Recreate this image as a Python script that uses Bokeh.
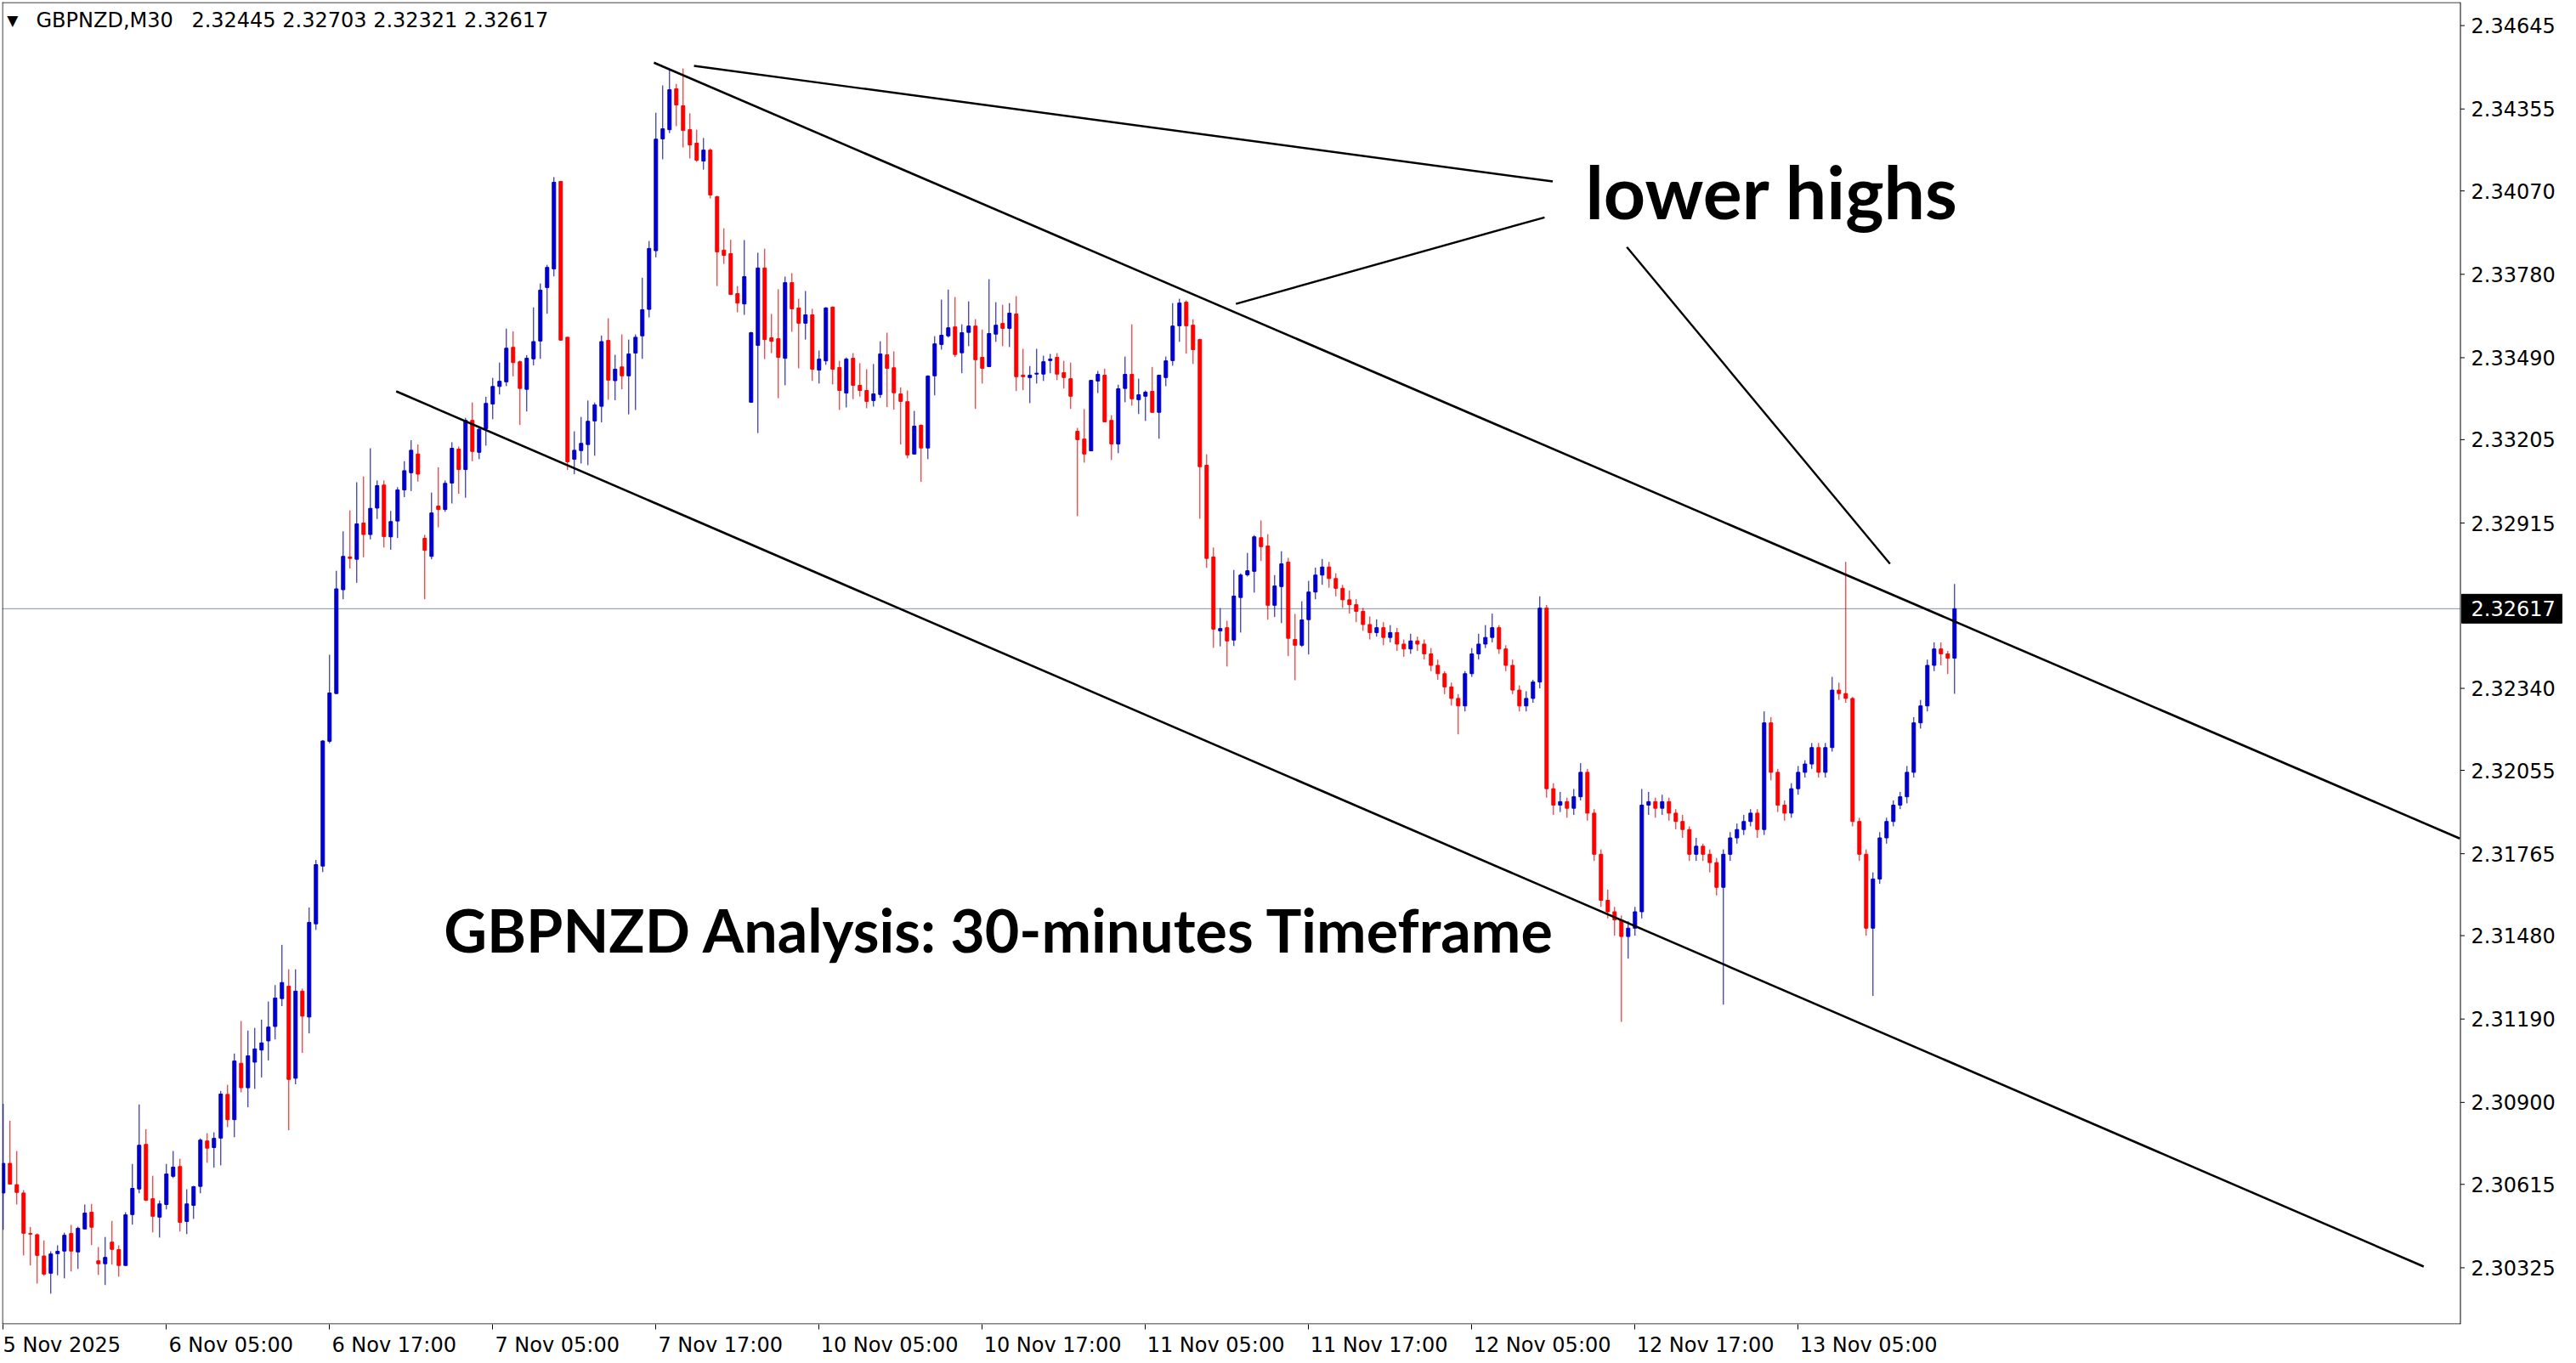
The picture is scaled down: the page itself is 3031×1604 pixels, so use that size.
import numpy as np
from bokeh.plotting import figure
from bokeh.models import FixedTicker, Range1d, Label, ColumnDataSource
from bokeh.core.properties import value
from bokeh.embed import file_html
from bokeh.resources import INLINE

# ---------------- data (M30 candles, index 0 = 5 Nov 2025 17:00) ----------------
opens = [
    2.30585, 2.30688, 2.30614, 2.30585, 2.30444, 2.30440, 2.30366, 2.30306, 2.30374, 2.30383,
    2.30444, 2.30380, 2.30460, 2.30518, 2.30349, 2.30339, 2.30414, 2.30388, 2.30333, 2.30510,
    2.30599, 2.30754, 2.30565, 2.30501, 2.30545, 2.30643, 2.30677, 2.30486, 2.30542, 2.30608,
    2.30766, 2.30743, 2.30776, 2.30928, 2.30840, 2.31036, 2.30951, 2.31040, 2.31082, 2.31114,
    2.31164, 2.31261, 2.31304, 2.30984, 2.31287, 2.31197, 2.31521, 2.31722, 2.32156, 2.32322,
    2.32683, 2.32797, 2.32789, 2.32915, 2.32875, 2.32967, 2.33047, 2.32867, 2.32922, 2.33030,
    2.33090, 2.33155, 2.32862, 2.32799, 2.32974, 2.32962, 2.33054, 2.33172, 2.33101, 2.33272,
    2.33161, 2.33243, 2.33329, 2.33390, 2.33406, 2.33526, 2.33476, 2.33380, 2.33486, 2.33548,
    2.33734, 2.33799, 2.34103, 2.33561, 2.33137, 2.33167, 2.33188, 2.33270, 2.33321, 2.33550,
    2.33410, 2.33458, 2.33427, 2.33506, 2.33566, 2.33658, 2.33862, 2.34251, 2.34283, 2.34425,
    2.34366, 2.34283, 2.34236, 2.34174, 2.34212, 2.34050, 2.33864, 2.33852, 2.33713, 2.33677,
    2.33335, 2.33533, 2.33802, 2.33559, 2.33556, 2.33488, 2.33751, 2.33663, 2.33610, 2.33639,
    2.33447, 2.33479, 2.33666, 2.33456, 2.33367, 2.33488, 2.33394, 2.33376, 2.33341, 2.33362,
    2.33500, 2.33455, 2.33364, 2.33337, 2.33155, 2.33255, 2.33176, 2.33427, 2.33536, 2.33566,
    2.33597, 2.33507, 2.33578, 2.33600, 2.33491, 2.33459, 2.33572, 2.33609, 2.33592, 2.33642,
    2.33429, 2.33421, 2.33433, 2.33433, 2.33480, 2.33491, 2.33438, 2.33417, 2.33234, 2.33207,
    2.33166, 2.33409, 2.33429, 2.33272, 2.33190, 2.33383, 2.33432, 2.33344, 2.33356, 2.33373,
    2.33300, 2.33421, 2.33480, 2.33601, 2.33683, 2.33603, 2.33553, 2.33116, 2.32797, 2.32540,
    2.32551, 2.32508, 2.32656, 2.32735, 2.32747, 2.32864, 2.32835, 2.32629, 2.32694, 2.32779,
    2.32510, 2.32490, 2.32579, 2.32675, 2.32734, 2.32762, 2.32722, 2.32688, 2.32648, 2.32631,
    2.32608, 2.32562, 2.32534, 2.32551, 2.32517, 2.32534, 2.32494, 2.32477, 2.32505, 2.32494,
    2.32460, 2.32420, 2.32391, 2.32345, 2.32305, 2.32279, 2.32391, 2.32460, 2.32494, 2.32517,
    2.32551, 2.32477, 2.32420, 2.32334, 2.32279, 2.32305, 2.32362, 2.32619, 2.31991, 2.31934,
    2.31946, 2.31923, 2.31963, 2.32048, 2.31906, 2.31763, 2.31603, 2.31563, 2.31535, 2.31477,
    2.31506, 2.31563, 2.31934, 2.31946, 2.31923, 2.31946, 2.31906, 2.31877, 2.31849, 2.31763,
    2.31791, 2.31763, 2.31734, 2.31648, 2.31763, 2.31820, 2.31849, 2.31877, 2.31906, 2.31849,
    2.32220, 2.32048, 2.31934, 2.31906, 2.31991, 2.32048, 2.32077, 2.32134, 2.32048, 2.32134,
    2.32334, 2.32322, 2.32305, 2.31877, 2.31763, 2.31506, 2.31677, 2.31820, 2.31877, 2.31934,
    2.31963, 2.32048, 2.32220, 2.32279, 2.32420, 2.32477, 2.32460, 2.32445,
]
highs = [
    2.30895, 2.30836, 2.30731, 2.30595, 2.30467, 2.30444, 2.30420, 2.30382, 2.30403, 2.30447,
    2.30474, 2.30468, 2.30545, 2.30547, 2.30397, 2.30432, 2.30488, 2.30403, 2.30518, 2.30686,
    2.30893, 2.30807, 2.30645, 2.30559, 2.30686, 2.30731, 2.30704, 2.30598, 2.30610, 2.30775,
    2.30793, 2.30796, 2.30940, 2.30961, 2.31070, 2.31183, 2.31150, 2.31159, 2.31188, 2.31251,
    2.31308, 2.31448, 2.31363, 2.31363, 2.31296, 2.31578, 2.31743, 2.32160, 2.32457, 2.32749,
    2.32886, 2.32959, 2.33057, 2.33077, 2.33175, 2.33063, 2.33063, 2.32957, 2.33040, 2.33130,
    2.33203, 2.33188, 2.32874, 2.33021, 2.33109, 2.33063, 2.33196, 2.33181, 2.33281, 2.33334,
    2.33252, 2.33354, 2.33420, 2.33473, 2.33591, 2.33582, 2.33480, 2.33499, 2.33665, 2.33748,
    2.33813, 2.34118, 2.34105, 2.33562, 2.33234, 2.33284, 2.33341, 2.33334, 2.33567, 2.33627,
    2.33500, 2.33571, 2.33553, 2.33571, 2.33768, 2.33896, 2.34342, 2.34437, 2.34491, 2.34442,
    2.34496, 2.34340, 2.34283, 2.34254, 2.34218, 2.34053, 2.33940, 2.33900, 2.33739, 2.33899,
    2.33580, 2.33855, 2.33869, 2.33642, 2.33728, 2.33772, 2.33784, 2.33695, 2.33722, 2.33660,
    2.33515, 2.33666, 2.33668, 2.33479, 2.33491, 2.33506, 2.33471, 2.33450, 2.33468, 2.33547,
    2.33577, 2.33512, 2.33387, 2.33376, 2.33305, 2.33258, 2.33429, 2.33565, 2.33692, 2.33727,
    2.33701, 2.33606, 2.33686, 2.33624, 2.33588, 2.33763, 2.33683, 2.33674, 2.33680, 2.33704,
    2.33521, 2.33461, 2.33521, 2.33497, 2.33503, 2.33506, 2.33479, 2.33473, 2.33246, 2.33311,
    2.33413, 2.33444, 2.33452, 2.33290, 2.33396, 2.33494, 2.33606, 2.33417, 2.33376, 2.33458,
    2.33431, 2.33494, 2.33680, 2.33695, 2.33689, 2.33624, 2.33556, 2.33154, 2.32830, 2.32619,
    2.32575, 2.32752, 2.32740, 2.32811, 2.32873, 2.32924, 2.32876, 2.32734, 2.32817, 2.32794,
    2.32599, 2.32643, 2.32714, 2.32760, 2.32790, 2.32780, 2.32740, 2.32700, 2.32680, 2.32650,
    2.32620, 2.32590, 2.32580, 2.32570, 2.32560, 2.32550, 2.32510, 2.32530, 2.32520, 2.32510,
    2.32480, 2.32440, 2.32400, 2.32360, 2.32320, 2.32400, 2.32480, 2.32530, 2.32560, 2.32600,
    2.32560, 2.32490, 2.32440, 2.32350, 2.32330, 2.32370, 2.32660, 2.32630, 2.32010, 2.31980,
    2.31960, 2.31990, 2.32080, 2.32060, 2.31920, 2.31780, 2.31640, 2.31580, 2.31550, 2.31530,
    2.31580, 2.31990, 2.31980, 2.31960, 2.31970, 2.31960, 2.31920, 2.31900, 2.31860, 2.31820,
    2.31800, 2.31780, 2.31750, 2.31780, 2.31840, 2.31870, 2.31900, 2.31920, 2.31920, 2.32260,
    2.32240, 2.32060, 2.31950, 2.32010, 2.32070, 2.32090, 2.32150, 2.32150, 2.32150, 2.32380,
    2.32360, 2.32780, 2.32310, 2.31890, 2.31780, 2.31700, 2.31840, 2.31890, 2.31950, 2.31980,
    2.32070, 2.32240, 2.32300, 2.32440, 2.32500, 2.32500, 2.32470, 2.32703,
]
lows = [
    2.30457, 2.30614, 2.30545, 2.30368, 2.30333, 2.30270, 2.30297, 2.30235, 2.30299, 2.30288,
    2.30312, 2.30321, 2.30458, 2.30404, 2.30300, 2.30265, 2.30336, 2.30294, 2.30331, 2.30475,
    2.30584, 2.30557, 2.30448, 2.30430, 2.30528, 2.30637, 2.30451, 2.30442, 2.30495, 2.30584,
    2.30690, 2.30673, 2.30681, 2.30814, 2.30779, 2.30935, 2.30883, 2.30947, 2.30987, 2.31046,
    2.31119, 2.31235, 2.30803, 2.30963, 2.31072, 2.31140, 2.31500, 2.31701, 2.32149, 2.32320,
    2.32650, 2.32757, 2.32707, 2.32796, 2.32858, 2.32929, 2.32830, 2.32822, 2.32863, 2.33005,
    2.33026, 2.33059, 2.32650, 2.32789, 2.32900, 2.32954, 2.32983, 2.33017, 2.33003, 2.33130,
    2.33137, 2.33184, 2.33276, 2.33362, 2.33391, 2.33425, 2.33256, 2.33303, 2.33463, 2.33486,
    2.33643, 2.33773, 2.33549, 2.33100, 2.33085, 2.33122, 2.33116, 2.33149, 2.33265, 2.33344,
    2.33342, 2.33380, 2.33293, 2.33308, 2.33486, 2.33630, 2.33839, 2.34180, 2.34271, 2.34295,
    2.34221, 2.34183, 2.34171, 2.34144, 2.34044, 2.33739, 2.33816, 2.33708, 2.33648, 2.33639,
    2.33333, 2.33228, 2.33485, 2.33506, 2.33349, 2.33394, 2.33580, 2.33453, 2.33553, 2.33409,
    2.33400, 2.33465, 2.33397, 2.33308, 2.33317, 2.33346, 2.33355, 2.33314, 2.33320, 2.33350,
    2.33318, 2.33309, 2.33188, 2.33140, 2.33153, 2.33058, 2.33137, 2.33359, 2.33518, 2.33560,
    2.33492, 2.33436, 2.33530, 2.33312, 2.33400, 2.33457, 2.33545, 2.33530, 2.33527, 2.33374,
    2.33377, 2.33332, 2.33400, 2.33409, 2.33436, 2.33412, 2.33383, 2.33312, 2.32939, 2.33125,
    2.33165, 2.33367, 2.33265, 2.33134, 2.33158, 2.33335, 2.33323, 2.33294, 2.33270, 2.33298,
    2.33208, 2.33391, 2.33462, 2.33545, 2.33504, 2.33468, 2.32930, 2.32759, 2.32481, 2.32486,
    2.32416, 2.32487, 2.32534, 2.32729, 2.32673, 2.32783, 2.32579, 2.32588, 2.32567, 2.32452,
    2.32368, 2.32484, 2.32458, 2.32650, 2.32700, 2.32690, 2.32660, 2.32620, 2.32600, 2.32570,
    2.32540, 2.32510, 2.32520, 2.32490, 2.32500, 2.32470, 2.32450, 2.32460, 2.32470, 2.32440,
    2.32400, 2.32370, 2.32320, 2.32280, 2.32180, 2.32260, 2.32380, 2.32440, 2.32480, 2.32500,
    2.32460, 2.32400, 2.32320, 2.32260, 2.32260, 2.32290, 2.32340, 2.31960, 2.31900, 2.31910,
    2.31890, 2.31900, 2.31950, 2.31880, 2.31740, 2.31580, 2.31540, 2.31480, 2.31180, 2.31400,
    2.31480, 2.31540, 2.31900, 2.31890, 2.31900, 2.31880, 2.31850, 2.31820, 2.31740, 2.31740,
    2.31740, 2.31700, 2.31620, 2.31240, 2.31740, 2.31800, 2.31830, 2.31860, 2.31820, 2.31830,
    2.32020, 2.31910, 2.31880, 2.31890, 2.31970, 2.32030, 2.32060, 2.32030, 2.32030, 2.32120,
    2.32300, 2.32290, 2.31860, 2.31740, 2.31480, 2.31270, 2.31660, 2.31800, 2.31860, 2.31920,
    2.31940, 2.32030, 2.32200, 2.32260, 2.32400, 2.32420, 2.32390, 2.32321,
]
closes = [
    2.30688, 2.30616, 2.30587, 2.30445, 2.30442, 2.30368, 2.30303, 2.30373, 2.30382, 2.30438,
    2.30383, 2.30462, 2.30515, 2.30466, 2.30339, 2.30361, 2.30389, 2.30333, 2.30509, 2.30601,
    2.30751, 2.30560, 2.30504, 2.30547, 2.30651, 2.30675, 2.30483, 2.30547, 2.30607, 2.30769,
    2.30741, 2.30775, 2.30929, 2.30840, 2.31044, 2.30951, 2.31062, 2.31086, 2.31107, 2.31162,
    2.31263, 2.31317, 2.30980, 2.31287, 2.31200, 2.31526, 2.31727, 2.32157, 2.32324, 2.32686,
    2.32799, 2.32792, 2.32912, 2.32875, 2.32966, 2.33045, 2.32868, 2.32920, 2.33030, 2.33097,
    2.33168, 2.33085, 2.32820, 2.32950, 2.32962, 2.33053, 2.33175, 2.33101, 2.33272, 2.33164,
    2.33241, 2.33331, 2.33390, 2.33408, 2.33523, 2.33473, 2.33383, 2.33488, 2.33546, 2.33725,
    2.33804, 2.34100, 2.33551, 2.33128, 2.33168, 2.33192, 2.33269, 2.33326, 2.33546, 2.33412,
    2.33450, 2.33427, 2.33503, 2.33561, 2.33657, 2.33870, 2.34250, 2.34286, 2.34422, 2.34369,
    2.34280, 2.34230, 2.34177, 2.34212, 2.34056, 2.33858, 2.33846, 2.33710, 2.33680, 2.33772,
    2.33577, 2.33802, 2.33553, 2.33547, 2.33491, 2.33751, 2.33660, 2.33610, 2.33639, 2.33450,
    2.33485, 2.33663, 2.33450, 2.33376, 2.33485, 2.33394, 2.33376, 2.33338, 2.33364, 2.33503,
    2.33453, 2.33368, 2.33338, 2.33152, 2.33252, 2.33176, 2.33426, 2.33538, 2.33568, 2.33594,
    2.33501, 2.33577, 2.33600, 2.33483, 2.33453, 2.33574, 2.33603, 2.33592, 2.33645, 2.33424,
    2.33424, 2.33429, 2.33436, 2.33476, 2.33485, 2.33433, 2.33421, 2.33356, 2.33205, 2.33155,
    2.33411, 2.33432, 2.33267, 2.33190, 2.33382, 2.33432, 2.33347, 2.33361, 2.33370, 2.33300,
    2.33429, 2.33479, 2.33600, 2.33680, 2.33601, 2.33518, 2.33111, 2.32792, 2.32546, 2.32548,
    2.32505, 2.32661, 2.32734, 2.32749, 2.32867, 2.32833, 2.32629, 2.32696, 2.32773, 2.32514,
    2.32490, 2.32578, 2.32675, 2.32734, 2.32762, 2.32722, 2.32688, 2.32648, 2.32631, 2.32608,
    2.32562, 2.32534, 2.32551, 2.32517, 2.32534, 2.32494, 2.32477, 2.32505, 2.32494, 2.32460,
    2.32420, 2.32391, 2.32345, 2.32305, 2.32279, 2.32391, 2.32460, 2.32494, 2.32517, 2.32551,
    2.32477, 2.32420, 2.32334, 2.32279, 2.32305, 2.32362, 2.32619, 2.31991, 2.31934, 2.31946,
    2.31923, 2.31963, 2.32048, 2.31906, 2.31763, 2.31603, 2.31563, 2.31535, 2.31477, 2.31506,
    2.31563, 2.31934, 2.31946, 2.31923, 2.31946, 2.31906, 2.31877, 2.31849, 2.31763, 2.31791,
    2.31763, 2.31734, 2.31648, 2.31763, 2.31820, 2.31849, 2.31877, 2.31906, 2.31849, 2.32220,
    2.32048, 2.31934, 2.31906, 2.31991, 2.32048, 2.32077, 2.32134, 2.32048, 2.32134, 2.32334,
    2.32322, 2.32305, 2.31877, 2.31763, 2.31506, 2.31677, 2.31820, 2.31877, 2.31934, 2.31963,
    2.32048, 2.32220, 2.32279, 2.32420, 2.32477, 2.32460, 2.32445, 2.32617,
]

time_tick_index = [0, 24, 48, 72, 96, 120, 144, 168, 192, 216, 240, 264]
time_tick_labels = ["5 Nov 2025", "6 Nov 05:00", "6 Nov 17:00", "7 Nov 05:00", "7 Nov 17:00",
                    "10 Nov 05:00", "10 Nov 17:00", "11 Nov 05:00", "11 Nov 17:00",
                    "12 Nov 05:00", "12 Nov 17:00", "13 Nov 05:00"]
price_ticks = [2.34645, 2.34355, 2.34070, 2.33780, 2.33490, 2.33205, 2.32915,
               2.32340, 2.32055, 2.31765, 2.31480, 2.31190, 2.30900, 2.30615, 2.30325]
current_price = 2.32617
symbol_text = "GBPNZD,M30"
last_bar_text = "2.32445 2.32703 2.32321 2.32617"

# drawn trend lines: (candle index, price)
upper_trend_x = [95.7, 361.3]
upper_trend_y = [2.34516, 2.31818]
lower_trend_x = [57.8, 356.0]
lower_trend_y = [2.33373, 2.30329]
pointer_x0 = [101.6, 181.3, 238.8]
pointer_y0 = [2.34505, 2.33677, 2.33875]
pointer_x1 = [227.9, 226.7, 277.5]
pointer_y1 = [2.34103, 2.33978, 2.32773]

title_note = "GBPNZD Analysis: 30-minutes Timeframe"
pointer_note = "lower highs"

# ---------------- layout constants (pixels -> data) ----------------
X0, X1 = -0.16, 378.46          # candle-index range across the whole frame (8 px per candle)
Y0, Y1 = 2.301282, 2.347266     # price range of the frame
PX = 1.0 / 8.0                  # one pixel in candle units
PY = (Y1 - Y0) / 1556.0         # one pixel in price units
SCALE_X = 361.40                # x of the price-scale line

n = min(len(opens), len(highs), len(lows), len(closes))
o = np.array(opens[:n]); h = np.array(highs[:n]); l = np.array(lows[:n]); c = np.array(closes[:n])
idx = np.arange(n)
BLUE = "#0000CD"
RED = "#FF0000"
col = np.where(c >= o, BLUE, RED)
src = ColumnDataSource(dict(x=idx, top=np.maximum(o, c), bottom=np.minimum(o, c),
                            high=h, low=l, color=col))

p = figure(width=3031, height=1604, output_backend="svg", toolbar_location=None,
           x_range=Range1d(X0, X1), y_range=Range1d(Y0, Y1),
           y_axis_location=None, x_axis_location="below",
           min_border_left=2, min_border_top=2, min_border_right=0, min_border_bottom=46)
p.background_fill_color = "white"
p.border_fill_color = "white"
p.outline_line_color = None
p.grid.visible = False

# current price line (behind candles)
p.segment(x0=[X0], y0=[current_price], x1=[SCALE_X], y1=[current_price],
          line_color="#8494A8", line_width=1)

# candles
p.segment(x0="x", y0="low", x1="x", y1="high", line_color="color", line_width=1, source=src)
p.vbar(x="x", width=0.5, top="top", bottom="bottom", fill_color="color",
       line_color="color", line_width=1, source=src)

# trend lines
p.line(upper_trend_x, upper_trend_y, line_color="black", line_width=2.6)
p.line(lower_trend_x, lower_trend_y, line_color="black", line_width=2.6)
p.segment(x0=pointer_x0, y0=pointer_y0, x1=pointer_x1, y1=pointer_y1,
          line_color="black", line_width=2.4)

# chart frame (left, top, bottom) and price-scale line
p.segment(x0=[X0 + 0.5 * PX, X0, X0, SCALE_X], y0=[Y0, Y1 - 0.5 * PY, Y0 + 0.5 * PY, Y0],
          x1=[X0 + 0.5 * PX, SCALE_X, SCALE_X, SCALE_X], y1=[Y1, Y1 - 0.5 * PY, Y0 + 0.5 * PY, Y1],
          line_color="black", line_width=1)

# price scale: ticks and labels
p.segment(x0=[SCALE_X] * len(price_ticks), y0=price_ticks,
          x1=[SCALE_X + 5 * PX] * len(price_ticks), y1=price_ticks,
          line_color="black", line_width=1)
p.text(x=[SCALE_X + 12.5 * PX] * len(price_ticks), y=price_ticks,
       text=["%.5f" % t for t in price_ticks], text_font=value("DejaVu Sans"),
       text_font_size=value("24px"), text_color="black", text_baseline="middle",
       text_align="left")

# current price tag
p.quad(left=[SCALE_X + 1.5 * PX], right=[SCALE_X + 119.5 * PX],
       bottom=[current_price - 17 * PY], top=[current_price + 17 * PY],
       fill_color="black", line_color="black")
p.text(x=[SCALE_X + 12.5 * PX], y=[current_price], text=["%.5f" % current_price],
       text_font=value("DejaVu Sans"), text_font_size=value("24px"), text_color="white",
       text_baseline="middle", text_align="left")

# bottom time axis: tick marks as minor ticks, labels left-aligned after each tick
label_centers = [t + len(s) * 6.9 / 8.0 for t, s in zip(time_tick_index, time_tick_labels)]
xa = p.xaxis[0]
xa.ticker = FixedTicker(ticks=label_centers, minor_ticks=time_tick_index)
xa.major_label_overrides = {cx: s for cx, s in zip(label_centers, time_tick_labels)}
xa.major_tick_line_color = None
xa.major_tick_out = 6
xa.major_tick_in = 0
xa.minor_tick_out = 6
xa.minor_tick_in = 0
xa.minor_tick_line_color = "black"
xa.major_label_standoff = 4
xa.major_label_text_font = "DejaVu Sans"
xa.major_label_text_font_size = "24px"
xa.major_label_text_color = "black"
xa.axis_line_color = None

# header
p.add_layout(Label(x=0.55, y=2.34664, text="\u25BC", text_font="DejaVu Sans",
                   text_font_size="17px", text_baseline="middle", text_color="black"))
p.add_layout(Label(x=4.84, y=2.34664, text=symbol_text, text_font="DejaVu Sans",
                   text_font_size="24px", text_baseline="middle", text_color="black"))
p.add_layout(Label(x=27.7, y=2.34664, text=last_bar_text, text_font="DejaVu Sans",
                   text_font_size="24px", text_baseline="middle", text_color="black"))

# annotation texts
p.add_layout(Label(x=232.7, y=2.34071, text=pointer_note, text_font="Lato",
                   text_font_style="bold", text_font_size="86px", text_color="black",
                   text_baseline="alphabetic"))
p.add_layout(Label(x=64.8, y=2.31502, text=title_note, text_font="Lato",
                   text_font_style="bold", text_font_size="70px", text_color="black",
                   text_baseline="alphabetic"))

open("out.html", "w").write(file_html(p, INLINE))
